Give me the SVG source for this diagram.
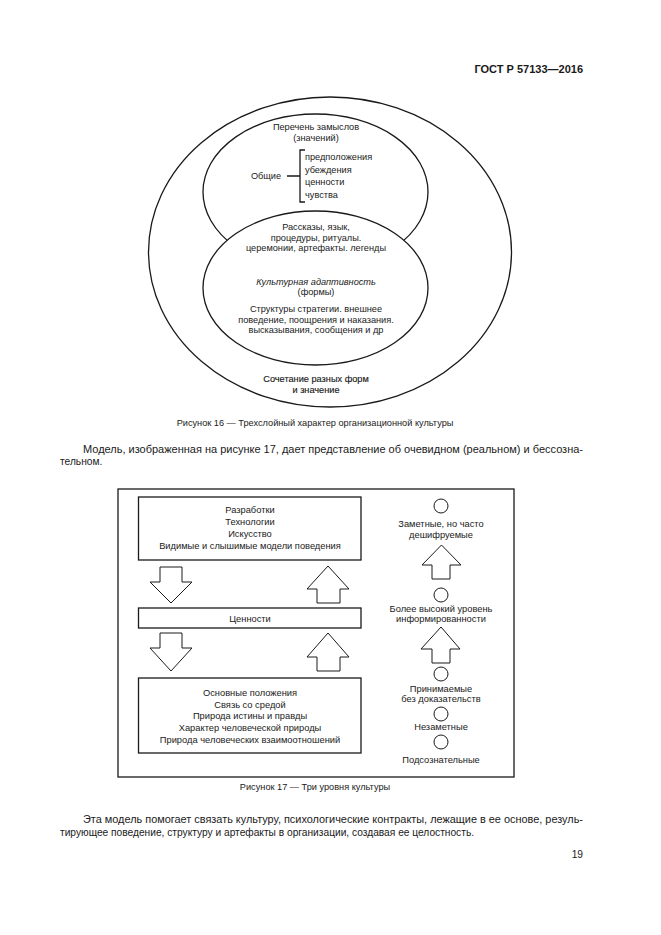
<svg xmlns="http://www.w3.org/2000/svg" width="661" height="935" viewBox="0 0 661 935">
<style>
text{font-family:"Liberation Sans",Arial,sans-serif;fill:#1a1a1a}
.f{font-size:9.2px;text-anchor:middle}
.fl{font-size:9.2px;text-anchor:start}
.s{font-size:9.3px;text-anchor:middle}
.b{font-size:10.2px}
.ln{fill:none;stroke:#1a1a1a;stroke-width:1.3}
.wf{fill:#fff;stroke:#1a1a1a;stroke-width:1.3}
.ar{fill:#fff;stroke:#1a1a1a;stroke-width:1}
</style>
<rect width="661" height="935" fill="#fff"/>
<text x="583" y="73" font-size="11" font-weight="bold" text-anchor="end">ГОСТ Р 57133—2016</text>

<g id="fig16">
<g id="outer"><ellipse class="ln" cx="330" cy="252" rx="181.5" ry="155"/>
<text class="f" x="316" y="382" stroke="#1a1a1a" stroke-width="0.15">Сочетание разных форм</text>
<text class="f" x="316" y="393" stroke="#1a1a1a" stroke-width="0.15">и значение</text></g>
<g id="upper"><ellipse class="ln" cx="315.5" cy="192" rx="112.5" ry="78"/>
<text class="f" x="316" y="130">Перечень замыслов</text>
<text class="f" x="316" y="141">(значений)</text>
<text class="f" x="266" y="179">Общие</text>
<path class="ln" d="M287 176H300M305 150H300V202H305"/>
<text class="fl" x="305" y="160">предположения</text>
<text class="fl" x="305" y="172.5">убеждения</text>
<text class="fl" x="305" y="185">ценности</text>
<text class="fl" x="305" y="197.5">чувства</text></g>
<g id="lower"><ellipse class="wf" cx="315.5" cy="288" rx="112.5" ry="77"/>
<text class="f" x="316" y="230">Рассказы, язык,</text>
<text class="f" x="316" y="240.5">процедуры, ритуалы.</text>
<text class="f" x="316" y="251">церемонии, артефакты. легенды</text>
<text class="f" x="316" y="284.5" font-style="italic">Культурная адаптивность</text>
<text class="f" x="316" y="295">(формы)</text>
<text class="f" x="316" y="312">Структуры  стратегии. внешнее</text>
<text class="f" x="316" y="322.5">поведение, поощрения и наказания.</text>
<text class="f" x="316" y="333">высказывания, сообщения и др</text></g>
</g>
<text class="f" x="315" y="426">Рисунок 16 — Трехслойный характер организационной культуры</text>

<text class="b" x="83" y="453" textLength="500" lengthAdjust="spacingAndGlyphs">Модель, изображенная на рисунке 17, дает представление об очевидном (реальном) и бессозна-</text>
<text class="b" x="60" y="465">тельном.</text>

<g id="fig17">
<rect class="ln" x="118" y="489" width="396" height="288" stroke-width="1.6"/>
<g id="artifacts"><rect class="ln" x="138.5" y="497" width="222.5" height="63"/>
<text class="s" x="250" y="513">Разработки</text>
<text class="s" x="250" y="525">Технологии</text>
<text class="s" x="250" y="537">Искусство</text>
<text class="s" x="250" y="549">Видимые и слышимые модели поведения</text></g>
<g id="values"><rect class="ln" x="138.5" y="608" width="222.5" height="20"/>
<text class="s" x="250" y="621.5">Ценности</text></g>
<g id="assumptions"><rect class="ln" x="138.5" y="678" width="222.5" height="75"/>
<text class="s" x="250" y="696">Основные положения</text>
<text class="s" x="250" y="707.5">Связь со средой</text>
<text class="s" x="250" y="719">Природа истины и правды</text>
<text class="s" x="250" y="731">Характер человеческой природы</text>
<text class="s" x="250" y="743">Природа человеческих взаимоотношений</text></g>
<g id="arrows">
<path class="ar" d="M160 567H182V582H192L171 603L150 582H160Z"/>
<path class="ar" d="M160 633H182V648H192L171 671L150 648H160Z"/>
<path class="ar" d="M317 603H340V589H349L328 566L307 589H317Z"/>
<path class="ar" d="M317 671H340V657H349L328 633L307 657H317Z"/>
<path class="ar" d="M432 579H450V565H461L441.5 545L422 565H432Z"/>
<path class="ar" d="M432 663H450V649H460L441 627L421 649H432Z"/>
</g>
<g id="levels">
<circle class="ar" cx="441" cy="506" r="7"/>
<text class="s" x="441" y="527">Заметные, но часто</text>
<text class="s" x="441" y="538">дешифруемые</text>
<circle class="ar" cx="441" cy="595" r="7"/>
<text class="s" x="441" y="612">Более высокий уровень</text>
<text class="s" x="441" y="622">информированности</text>
<circle class="ar" cx="441" cy="674" r="7"/>
<text class="s" x="441" y="692">Принимаемые</text>
<text class="s" x="441" y="702">без доказательств</text>
<circle class="ar" cx="441" cy="714" r="7"/>
<text class="s" x="441" y="730">Незаметные</text>
<circle class="ar" cx="441" cy="742" r="7"/>
<text class="s" x="441" y="763">Подсознательные</text>
</g>
</g>
<text class="f" x="315" y="790">Рисунок 17 — Три уровня культуры</text>

<text class="b" x="83" y="823" textLength="500" lengthAdjust="spacingAndGlyphs">Эта модель помогает связать культуру, психологические контракты, лежащие в ее основе, резуль-</text>
<text class="b" x="60" y="836">тирующее поведение, структуру и артефакты в организации, создавая ее целостность.</text>
<text class="b" x="583" y="858" text-anchor="end">19</text>
</svg>
